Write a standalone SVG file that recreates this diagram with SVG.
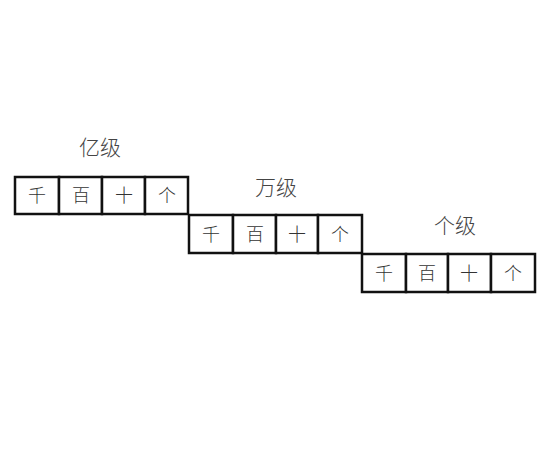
<svg xmlns="http://www.w3.org/2000/svg" width="557" height="450" viewBox="0 0 557 450">
<style>
.cell{fill:#fff;stroke:#111;stroke-width:2.5}
.t{font-family:"Noto Sans CJK SC","Noto Sans CJK JP",sans-serif;font-size:18px;font-weight:300;fill:#333;text-anchor:middle}
.lbl{font-family:"Noto Sans CJK SC","Noto Sans CJK JP",sans-serif;font-size:21px;font-weight:300;fill:#444;text-anchor:middle}
</style>
<rect width="557" height="450" fill="#fff"/>
<g id="yi">
<text class="lbl" x="100" y="155">亿级</text>
<rect class="cell" x="15" y="177" width="44" height="37"/>
<rect class="cell" x="59" y="177" width="43" height="37"/>
<rect class="cell" x="102" y="177" width="43" height="37"/>
<rect class="cell" x="145" y="177" width="43" height="37"/>
<text class="t" x="37" y="202">千</text>
<text class="t" x="81" y="202">百</text>
<text class="t" x="124" y="202">十</text>
<text class="t" x="167" y="202">个</text>
</g>
<g id="wan">
<text class="lbl" x="276" y="195">万级</text>
<rect class="cell" x="189" y="215" width="44" height="38"/>
<rect class="cell" x="233" y="215" width="43" height="38"/>
<rect class="cell" x="276" y="215" width="42" height="38"/>
<rect class="cell" x="318" y="215" width="44" height="38"/>
<text class="t" x="211" y="241">千</text>
<text class="t" x="255" y="241">百</text>
<text class="t" x="297" y="241">十</text>
<text class="t" x="340" y="241">个</text>
</g>
<g id="ge">
<text class="lbl" x="455" y="233">个级</text>
<rect class="cell" x="362" y="254" width="44" height="38"/>
<rect class="cell" x="406" y="254" width="42" height="38"/>
<rect class="cell" x="448" y="254" width="43" height="38"/>
<rect class="cell" x="491" y="254" width="44" height="38"/>
<text class="t" x="384" y="280">千</text>
<text class="t" x="427" y="280">百</text>
<text class="t" x="469" y="280">十</text>
<text class="t" x="513" y="280">个</text>
</g>
<g id="connectors"></g>
</svg>
